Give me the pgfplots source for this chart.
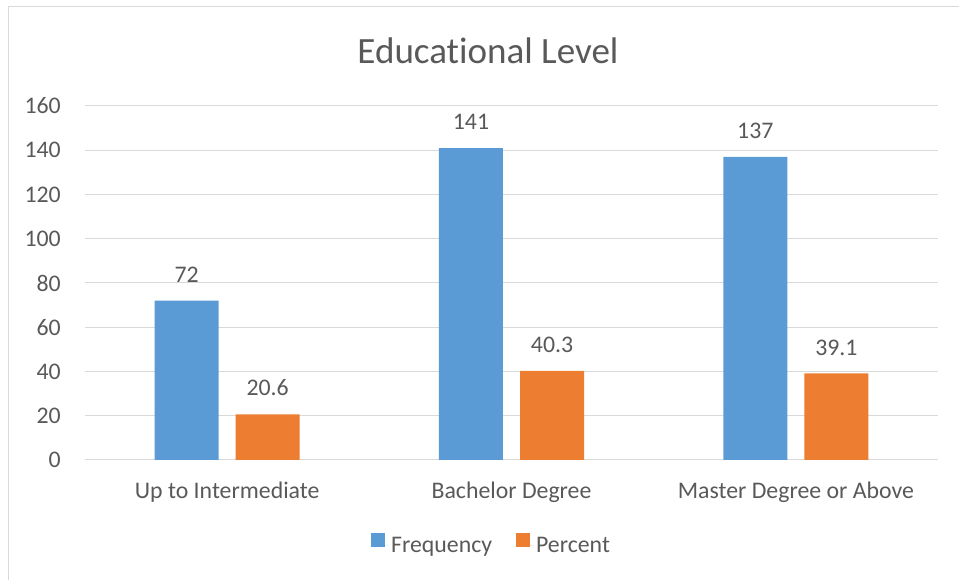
\documentclass[border=0pt]{standalone}
\usepackage{pgfplots}
\pgfplotsset{compat=1.18}
\usepackage{fontspec}
\setmainfont{Carlito}[Ligatures={NoCommon}]
\definecolor{cblue}{HTML}{5B9BD5}
\definecolor{corange}{HTML}{ED7D31}
\definecolor{ctext}{HTML}{595959}
\definecolor{cgrid}{HTML}{D9D9D9}
\begin{document}
\begin{tikzpicture}[x=0.75pt,y=0.75pt]
\useasboundingbox (0,0) rectangle (959,580);
\draw[cgrid, line width=0.75pt] (8,-5) -- (8,573) -- (965,573);
\node[text=ctext, font=\fontsize{27.8}{32}\selectfont, anchor=base] at (488,516) {Educational Level};
\begin{axis}[
  at={(63.75pt,90pt)}, anchor=south west,
  scale only axis, width=639.75pt, height=265.5pt,
  ybar=12.8pt, bar width=48pt,
  xmin=-0.5, xmax=2.5, ymin=0, ymax=160,
  xtick={0,1,2},
  xticklabels={Up to Intermediate, Bachelor Degree, Master Degree or Above},
  ytick={0,20,...,160},
  axis line style={draw=none},
  major tick length=0pt,
  ymajorgrids, grid style={cgrid, line width=0.75pt},
  /pgf/number format/assume math mode=true,
  tick label style={text=ctext, font=\fontsize{17.85}{21}\selectfont},
  yticklabel style={anchor=east, inner sep=0pt, xshift=-18pt},
  xticklabel style={anchor=base, inner sep=0pt, yshift=-29.25pt},
  nodes near coords,
  every node near coord/.append style={text=ctext, font=\fontsize{17.85}{21}\selectfont, anchor=south, inner sep=0pt, yshift=13.5pt},
  legend style={at={(axis description cs:0.477,-0.24)}, anchor=center, draw=none, fill=none,
    legend columns=2, font=\fontsize{17.85}{21}\selectfont, text=ctext,
    /tikz/every even column/.append style={column sep=16pt},
    legend cell align=left},
  legend image code/.code={\fill[#1] (0pt,-0.5pt) rectangle (10.5pt,10pt); \path (0pt,0pt) -- (13pt,0pt);},
  clip=false,
]
\addplot[fill=cblue, draw=none] coordinates {(0,72) (1,141) (2,137)};
\addplot[fill=corange, draw=none, point meta=explicit symbolic] coordinates {(0,20.6) [20.6] (1,40.3) [40.3] (2,39.1) [39.1]};
\legend{Frequency, Percent}
\end{axis}
\end{tikzpicture}
\end{document}
